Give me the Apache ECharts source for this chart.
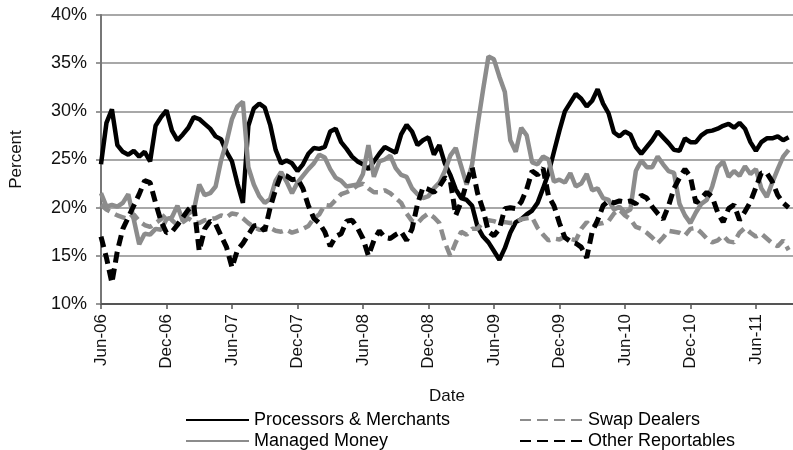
<!DOCTYPE html>
<html>
<head>
<meta charset="utf-8">
<script src="https://cdn.jsdelivr.net/npm/echarts@6/dist/echarts.min.js"></script>
<style>
  html, body { margin: 0; padding: 0; background: #fff; }
  #chart { width: 793px; height: 450px; }
</style>
</head>
<body>
<div id="chart"></div>
<script>
// tick labels every 6 months, starting Jun-06
const tickLabels = ["Jun-06", "Dec-06", "Jun-07", "Dec-07", "Jun-08", "Dec-08", "Jun-09", "Dec-09", "Jun-10", "Dec-10", "Jun-11"];

// values in percent, one point every half month from Jun-06
const processors = [
  24.5, 28.8, 30.2, 26.5, 25.8, 25.5, 25.9, 25.3, 25.8, 24.8,
  28.5, 29.4, 30.1, 28.0, 27.0, 27.6, 28.3, 29.4, 29.2, 28.7,
  28.2, 27.4, 27.1, 25.8, 24.8, 22.5, 20.5, 28.5, 30.3, 30.8,
  30.4, 28.6, 26.0, 24.6, 24.9, 24.6, 23.8, 24.5, 25.6, 26.2,
  26.1, 26.3, 27.9, 28.2, 26.8, 26.1, 25.3, 24.8, 24.5, 24.0,
  24.8, 25.6, 26.3, 26.0, 25.7, 27.6, 28.6, 27.9, 26.5, 27.0,
  27.3, 25.5, 26.5, 24.6, 23.4, 21.9, 21.0, 20.8, 20.2, 18.0,
  17.0, 16.4, 15.5, 14.6, 15.8, 17.4, 18.5, 18.8, 19.3, 19.7,
  20.5, 22.0, 23.6, 25.8, 28.0, 30.0, 30.9, 31.8, 31.3, 30.5,
  31.1, 32.3, 30.8, 29.8, 27.8, 27.4, 27.9, 27.6, 26.3, 25.6,
  26.3, 27.0, 27.9, 27.3, 26.7, 26.0, 25.9, 27.2, 26.8, 26.8,
  27.5, 27.9, 28.0, 28.2, 28.5, 28.7, 28.3, 28.8, 28.2, 26.8,
  25.9, 26.8, 27.2, 27.2, 27.4, 27.0, 27.3
];
const swapDealers = [
  20.3, 19.8, 19.5, 19.2, 19.0, 18.8, 19.3, 18.6, 18.2, 18.0,
  18.4, 18.8, 19.4, 18.7, 18.2, 18.5, 18.9, 18.5, 18.4, 18.7,
  18.8, 18.9, 19.2, 19.0, 19.4, 19.3, 18.9, 18.4, 18.0, 17.7,
  17.7, 17.9, 17.6, 17.5, 17.7, 17.4, 17.6, 17.8, 18.1, 18.9,
  19.3, 20.3, 20.2, 20.8, 21.4, 21.6, 21.9, 22.3, 22.5, 22.0,
  21.6, 21.6, 21.8, 21.5, 21.0, 20.5, 19.4, 18.6, 18.4, 19.0,
  19.4, 19.0, 18.4, 16.4, 15.0, 16.4, 17.5, 17.2, 17.8, 17.8,
  18.5, 18.7, 18.6, 18.4, 18.5, 18.4, 18.5, 18.8, 18.9, 19.0,
  17.9, 17.2, 16.6, 16.8, 16.7, 17.0, 16.8, 16.6, 17.8, 18.5,
  18.0, 18.3, 18.4, 18.6, 19.4, 19.8, 19.2, 18.8, 18.0, 17.8,
  17.4, 16.9, 16.3, 16.9, 17.6, 17.5, 17.4, 17.1, 17.8, 17.9,
  17.4, 16.8, 16.4, 16.6, 17.1, 16.5, 16.4, 17.4, 17.9, 17.4,
  17.0, 17.3, 16.8, 16.3, 16.0, 16.6, 15.6
];
const managedMoney = [
  21.5, 20.1, 20.3, 20.1, 20.5, 21.4, 18.8, 16.2, 17.3, 17.2,
  17.8, 17.7, 18.8, 19.0, 20.2, 18.6, 19.4, 19.7, 22.4, 21.3,
  21.5, 22.2, 24.9, 26.8, 29.2, 30.5, 31.0, 24.2, 22.4, 21.2,
  20.5, 20.9, 22.8, 23.7, 22.7, 21.5, 22.6, 23.3, 24.0, 24.6,
  25.5, 25.2, 24.0, 23.1, 22.8, 22.2, 22.3, 22.4, 23.5, 26.5,
  23.2, 24.8, 25.0, 25.4, 24.1, 23.4, 23.2, 22.0, 21.4, 21.0,
  21.2, 22.0, 22.6, 23.8, 25.4, 26.2, 24.3, 22.4, 24.5, 28.5,
  32.2, 35.7, 35.4, 33.6, 32.0, 27.0, 25.8, 28.3, 27.5, 24.7,
  24.5, 25.3, 25.0, 22.7, 22.9, 22.6, 23.6, 22.2, 22.5, 23.5,
  21.8, 22.0, 21.0, 20.8, 19.8, 20.1, 19.5, 19.8, 23.8, 24.9,
  24.2, 24.2, 25.3, 24.5, 23.8, 23.6, 20.4, 19.2, 18.4, 19.5,
  20.4, 20.8, 22.2, 24.2, 24.8, 23.2, 23.8, 23.3, 24.3, 23.5,
  24.0, 22.0, 21.1, 22.6, 24.0, 25.3, 26.0
];
const otherReportables = [
  17.0, 14.8, 12.2, 15.5, 17.8, 19.0, 20.2, 21.4, 22.8, 22.6,
  20.5, 18.6, 17.4, 17.5, 18.2, 19.0, 19.8, 20.3, 15.5, 17.8,
  18.6, 18.3, 17.1, 15.9, 13.8, 15.6, 16.3, 17.2, 18.1, 18.2,
  17.6, 20.0, 21.9, 23.4, 23.3, 22.9, 23.0, 22.0, 20.2, 18.9,
  18.4, 17.5, 16.0, 17.0, 17.3, 18.6, 18.7, 17.9, 16.8, 15.0,
  16.6, 17.6, 16.9, 16.8, 17.2, 17.5, 16.6, 17.8, 20.4, 22.1,
  21.9, 21.6, 22.2, 23.1, 22.8, 19.2, 20.6, 22.6, 24.2, 21.5,
  19.8, 17.5, 17.1, 17.8, 19.9, 20.0, 19.9, 20.6, 21.9, 23.8,
  23.4, 24.1, 21.2, 20.2, 18.4, 16.9, 16.5, 16.3, 15.9, 14.8,
  17.5, 18.7, 20.2, 20.7, 20.5, 20.7, 20.6, 20.7, 20.4, 21.3,
  21.0, 20.1, 19.4, 18.8, 20.2, 22.0, 23.1, 24.0, 23.2, 20.5,
  21.0, 21.6, 21.1, 19.5, 18.5, 19.9, 20.3, 18.7, 19.6, 20.6,
  22.1, 23.6, 23.6, 22.7, 21.3, 20.5, 20.0
];

// x position in months after Jun-06 (half-month steps)
const withMonths = arr => arr.map((v, i) => [i / 2, v]);

const FONT = "Liberation Sans";
const BLACK = "#000000";
const GREY = "#8c8c8c";

// one legend block per entry so the two columns line up like the original
const legendItem = (name, left, top) => ({
  data: [name],
  left: left,
  top: top,
  itemWidth: 63,
  itemHeight: 4,
  itemGap: 0,
  itemStyle: { opacity: 0 },
  textStyle: { fontFamily: FONT, fontSize: 18, color: "#000" }
});

const chart = echarts.init(document.getElementById("chart"));
chart.setOption({
  animation: false,
  textStyle: { fontFamily: FONT },
  grid: { left: 97, right: 0, top: 15, bottom: 146 },
  legend: [
    legendItem("Processors & Merchants", 180, 406),
    legendItem("Managed Money", 180, 427),
    legendItem("Swap Dealers", 514, 406),
    legendItem("Other Reportables", 514, 427)
  ],
  xAxis: {
    type: "value",
    min: 0,
    max: 63.4,
    interval: 6,
    name: "Date",
    nameLocation: "middle",
    nameGap: 84,
    nameTextStyle: { fontFamily: FONT, fontSize: 17, color: "#111" },
    axisLine: { lineStyle: { color: "#555", width: 2 } },
    axisTick: { length: 5, lineStyle: { color: "#555", width: 1.5 } },
    splitLine: { show: false },
    axisLabel: {
      rotate: 90,
      margin: 10,
      fontSize: 17,
      color: "#111",
      fontFamily: FONT,
      showMaxLabel: false,
      formatter: v => tickLabels[Math.round(v / 6)] || ""
    }
  },
  yAxis: {
    type: "value",
    min: 10,
    max: 40,
    interval: 5,
    name: "Percent",
    nameLocation: "middle",
    nameGap: 76,
    nameTextStyle: { fontFamily: FONT, fontSize: 17, color: "#111" },
    axisLine: { show: true, lineStyle: { color: "#777", width: 2 } },
    axisTick: { show: true, length: 5, lineStyle: { color: "#777", width: 1.5 } },
    splitLine: { lineStyle: { color: "#a8a8a8", width: 2 } },
    axisLabel: {
      margin: 14,
      fontSize: 18,
      color: "#111",
      fontFamily: FONT,
      formatter: "{value}%"
    }
  },
  series: [
    {
      name: "Processors & Merchants",
      type: "line",
      data: withMonths(processors),
      showSymbol: false,
      symbol: "none",
      lineStyle: { color: BLACK, width: 4.5 },
      itemStyle: { color: BLACK }
    },
    {
      name: "Swap Dealers",
      type: "line",
      data: withMonths(swapDealers),
      showSymbol: false,
      symbol: "none",
      lineStyle: { color: GREY, width: 4.5, type: [11, 6] },
      itemStyle: { color: GREY }
    },
    {
      name: "Managed Money",
      type: "line",
      data: withMonths(managedMoney),
      showSymbol: false,
      symbol: "none",
      lineStyle: { color: GREY, width: 4.5 },
      itemStyle: { color: GREY }
    },
    {
      name: "Other Reportables",
      type: "line",
      data: withMonths(otherReportables),
      showSymbol: false,
      symbol: "none",
      lineStyle: { color: BLACK, width: 5, type: [11, 6] },
      itemStyle: { color: BLACK }
    }
  ]
});
</script>
</body>
</html>
